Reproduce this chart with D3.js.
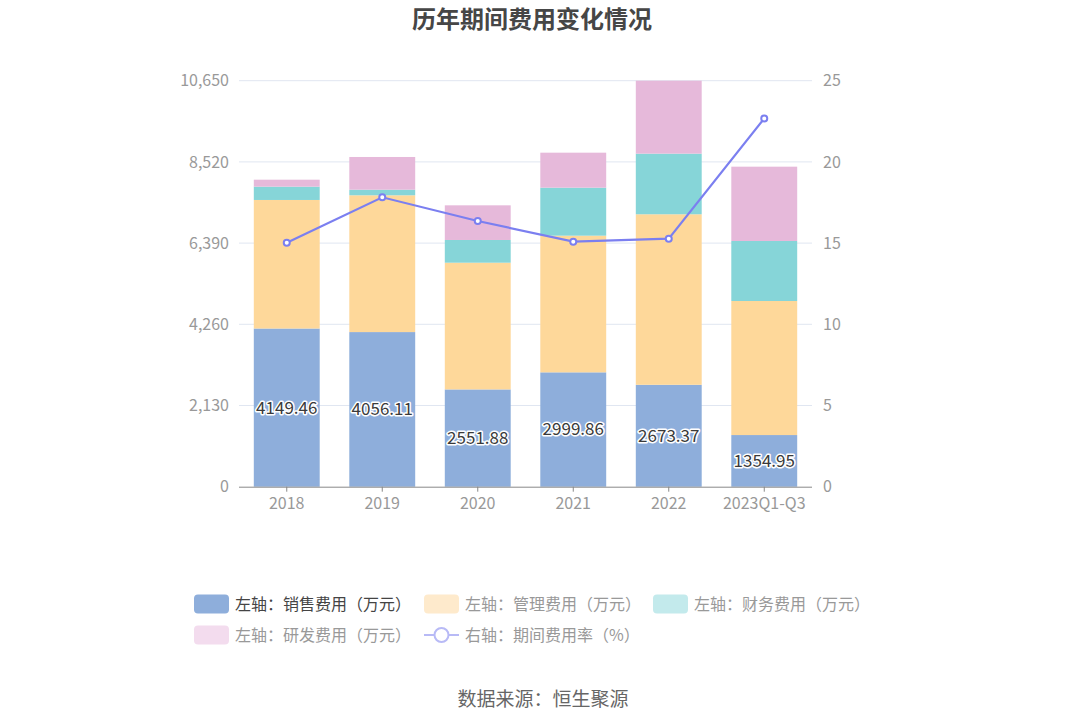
<!DOCTYPE html>
<html>
<head>
<meta charset="utf-8">
<script src="https://cdn.jsdelivr.net/npm/d3@7"></script>
<style>
  body { margin: 0; background: #fff; }
  svg { display: block; font-family: "Noto Sans CJK SC", "Noto Sans", sans-serif; }
</style>
</head>
<body>
<svg id="chart" width="1086" height="728"></svg>
<script>
// 데이터
const years = ["2018", "2019", "2020", "2021", "2022", "2023Q1-Q3"];
const sales = [4149.46, 4056.11, 2551.88, 2999.86, 2673.37, 1354.95];
const mgmt = [3372, 3588, 3324, 3585, 4473, 3516];
const finance = [349, 147, 596, 1259, 1590, 1574];
const rnd = [183, 858, 909, 918, 1914, 1950];
const rate = [15.02, 17.82, 16.36, 15.09, 15.27, 22.68];
const leftTicks = [0, 2130, 4260, 6390, 8520, 10650];
const rightTicks = [0, 5, 10, 15, 20, 25];
const legendNames = ["左轴：销售费用（万元）", "左轴：管理费用（万元）", "左轴：财务费用（万元）", "左轴：研发费用（万元）", "右轴：期间费用率（%）"];

const config = {
	margin: {left: 239, right: 274, top: 80.7, bottom: 241.3},
	colors: ["#8eaedb", "#fed89a", "#86d5d8", "#e6b9da"],
	fadedColors: ["#8eaedb", "#feeacc", "#c3eaec", "#f3dcee"],
	lineColor: "#7b7ff0",
	font: '"Noto Sans CJK SC", "Noto Sans", sans-serif'
};

const svg = d3.select("#chart");
const W = 1086, H = 728;
const plotB = H - config.margin.bottom;

// 스케일
const x = d3.scaleBand()
	.domain(years)
	.range([config.margin.left, W - config.margin.right])
	.paddingInner(0.31)
	.paddingOuter(0.155);

const y = d3.scaleLinear().domain([0, 10650]).range([plotB, config.margin.top]);
const yr = d3.scaleLinear().domain([0, 25]).range([plotB, config.margin.top]);

// 제목
svg.append("text")
	.attr("x", 532).attr("y", 28)
	.attr("text-anchor", "middle")
	.attr("font-size", "24px").attr("font-weight", "bold")
	.attr("fill", "#464646")
	.text("历年期间费用变化情况");

// 그리드
svg.append("g").selectAll("line")
	.data(leftTicks.slice(1))
	.join("line")
	.attr("x1", config.margin.left).attr("x2", W - config.margin.right)
	.attr("y1", d => y(d)).attr("y2", d => y(d))
	.attr("stroke", "#e0e6f1").attr("stroke-width", 1);

// 축 글꼴 설정
const styleAxisText = g => g.attr("font-family", config.font)
	.selectAll("text").attr("fill", "#999").attr("font-size", "16px");

// 왼쪽 축
svg.append("g")
	.attr("transform", `translate(${config.margin.left}, 0)`)
	.call(d3.axisLeft(y).tickValues(leftTicks).tickFormat(d3.format(",")).tickSize(0).tickPadding(10))
	.call(g => g.select(".domain").remove())
	.call(styleAxisText);

// 오른쪽 축
svg.append("g")
	.attr("transform", `translate(${W - config.margin.right}, 0)`)
	.call(d3.axisRight(yr).tickValues(rightTicks).tickSize(0).tickPadding(11))
	.call(g => g.select(".domain").remove())
	.call(styleAxisText);

// 누적 막대
const rows = years.map((yy, i) => ({year: yy, s0: sales[i], s1: mgmt[i], s2: finance[i], s3: rnd[i]}));
const stack = d3.stack().keys(["s0", "s1", "s2", "s3"])(rows);

stack.forEach((layer, k) => {
	svg.append("g").selectAll("rect")
		.data(layer)
		.join("rect")
		.attr("x", d => x(d.data.year))
		.attr("width", x.bandwidth())
		.attr("y", d => y(d[1]))
		.attr("height", d => y(d[0]) - y(d[1]))
		.attr("fill", config.colors[k]);
});

// X 축
svg.append("g")
	.attr("transform", `translate(0, ${plotB})`)
	.call(d3.axisBottom(x).tickSize(5).tickPadding(6))
	.call(g => g.select(".domain").attr("stroke", "#888").attr("d", `M${config.margin.left},0.5H${W - config.margin.right}`))
	.call(g => g.selectAll("line").attr("stroke", "#888"))
	.call(styleAxisText);

// 판매비용 라벨
svg.append("g").selectAll("text")
	.data(stack[0])
	.join("text")
	.attr("x", d => x(d.data.year) + x.bandwidth() / 2)
	.attr("y", d => (y(d[0]) + y(d[1])) / 2)
	.attr("dy", "0.35em")
	.attr("text-anchor", "middle")
	.attr("font-size", "17px")
	.attr("fill", "#3a3a3a")
	.attr("stroke", "#fff").attr("stroke-width", 3)
	.attr("paint-order", "stroke")
	.attr("stroke-linejoin", "round")
	.text(d => d3.format(".2f")(d[1]));

// 비용률 선
const line = d3.line()
	.x((d, i) => x(years[i]) + x.bandwidth() / 2)
	.y(d => yr(d));

svg.append("path")
	.datum(rate)
	.attr("fill", "none")
	.attr("stroke", config.lineColor)
	.attr("stroke-width", 2.2)
	.attr("d", line);

svg.append("g").selectAll("circle")
	.data(rate)
	.join("circle")
	.attr("cx", (d, i) => x(years[i]) + x.bandwidth() / 2)
	.attr("cy", d => yr(d))
	.attr("r", 3)
	.attr("fill", "#fff")
	.attr("stroke", config.lineColor)
	.attr("stroke-width", 2);

// 범례
const legendPos = [[194, 604], [424, 604], [653, 604], [194, 635], [424, 635]];
legendNames.forEach((name, i) => {
	const [lx, ly] = legendPos[i];
	const g = svg.append("g").attr("transform", `translate(${lx}, ${ly})`);
	if (i < 4) {
		g.append("rect")
			.attr("x", 0).attr("y", -9.5)
			.attr("width", 35).attr("height", 19)
			.attr("rx", 4)
			.attr("fill", config.fadedColors[i]);
	} else {
		g.append("line")
			.attr("x1", 0).attr("x2", 35)
			.attr("y1", 0).attr("y2", 0)
			.attr("stroke", "#b8baf6").attr("stroke-width", 2);
		g.append("circle")
			.attr("cx", 17.5).attr("cy", 0).attr("r", 7)
			.attr("fill", "#fff")
			.attr("stroke", "#b8baf6").attr("stroke-width", 2);
	}
	g.append("text")
		.attr("x", 41).attr("y", 0)
		.attr("dy", "0.35em")
		.attr("font-size", "16px")
		.attr("fill", i === 0 ? "#444" : "#999")
		.text(name);
});

// 출처
svg.append("text")
	.attr("x", 543).attr("y", 706)
	.attr("text-anchor", "middle")
	.attr("font-size", "19px")
	.attr("fill", "#666")
	.text("数据来源：恒生聚源");
</script>
</body>
</html>
